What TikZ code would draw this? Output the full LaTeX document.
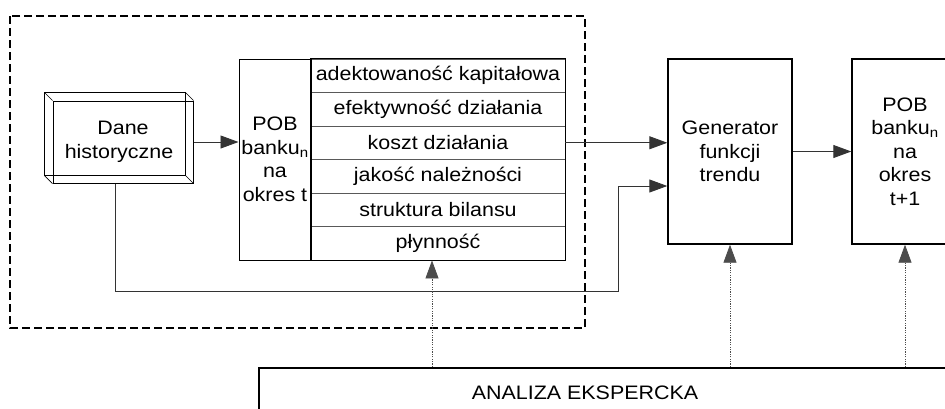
\documentclass[tikz,border=0pt]{standalone}
\usepackage{fontspec}
\setmainfont{Liberation Sans}[FakeStretch=1.1]
\usepackage{tikz}
\usetikzlibrary{arrows.meta}

\tikzset{
  tip/.style={-{Triangle[length=18pt,width=13pt]}},
  conn/.style={draw=black!80, line width=0.9pt},
  dotconn/.style={draw=black!70, line width=0.8pt, dash pattern=on 1.2pt off 1.2pt},
  rowbox/.style={draw=black!65, line width=0.9pt, minimum width=254pt, minimum height=33.5pt, inner sep=0pt},
  blockbox/.style={draw, line width=1.4pt, minimum height=185pt, align=center, inner sep=0pt},
}

\begin{document}
\begin{tikzpicture}[x=1pt, y=-1pt, font=\fontsize{19.5}{23.5}\selectfont]
\useasboundingbox (0,0) rectangle (945,408);
\clip (0,0) rectangle (945,408);

\draw[line width=1.5pt, dash pattern=on 8pt off 4pt] (10,16) rectangle (585,328);

% dane historyczne
\node[draw, line width=1pt, minimum width=140pt, minimum height=82pt, inner sep=0pt, align=center]
  (dane) at (123,142) {Dane\\historyczne\hspace*{8pt}};
\draw[line width=1pt] ([shift={(-8,-8)}]dane.north west) rectangle ([shift={(-8,-8)}]dane.south east);
\draw[line width=0.7pt] ([shift={(-8,-8)}]dane.north west) -- (dane.north west)
  ([shift={(-8,-8)}]dane.north east) -- (dane.north east)
  ([shift={(-8,-8)}]dane.south west) -- (dane.south west)
  ([shift={(-8,-8)}]dane.south east) -- (dane.south east);

% tabela POB
\foreach \t [count=\i] in {adektowaność kapitałowa, efektywność działania, koszt działania,
    jakość należności, struktura bilansu, płynność}
  \node[rowbox] (r\i) at (438,{59+33.5*\i-16.75}) {\t};
\node[draw, line width=1pt, minimum width=72pt, minimum height=201pt, inner sep=0pt, align=center]
  (pob) at (275,159.5) {POB\\banku\textsubscript{n}\\na\\okres t};
\draw[line width=1pt] (r1.north west) rectangle (r6.south east);

\node[blockbox, minimum width=124pt] (gen) at (730,151.5) {Generator\\funkcji\\trendu};
\node[blockbox, minimum width=106pt] (pob2) at (905,151.5) {POB\\banku\textsubscript{n}\\na\\okres\\t+1};

\node[draw, line width=1.6pt, anchor=north west, minimum width=750pt, minimum height=100pt]
  (ana) at (258,367) {};
\node (anatxt) at (585,393) {ANALIZA EKSPERCKA};

% polaczenia
\coordinate (bend) at (618,291);
\coordinate (tin) at ([xshift=-6pt]r6.south);
\draw[conn, tip] (dane.east) -- (dane.east -| pob.west);
\draw[conn, tip] (r3.east) -- (r3.east -| gen.west);
\draw[conn, tip] ([xshift=-8pt]dane.south) |- (bend) |- ([yshift=-34.5pt]gen.west);
\draw[conn, tip] (gen.east) -- (pob2.west);
\draw[dotconn, tip] (ana.north -| tin) -- (tin);
\draw[dotconn, tip] (ana.north -| gen.south) -- (gen.south);
\draw[dotconn, tip] (ana.north -| pob2.south) -- (pob2.south);
\end{tikzpicture}
\end{document}
